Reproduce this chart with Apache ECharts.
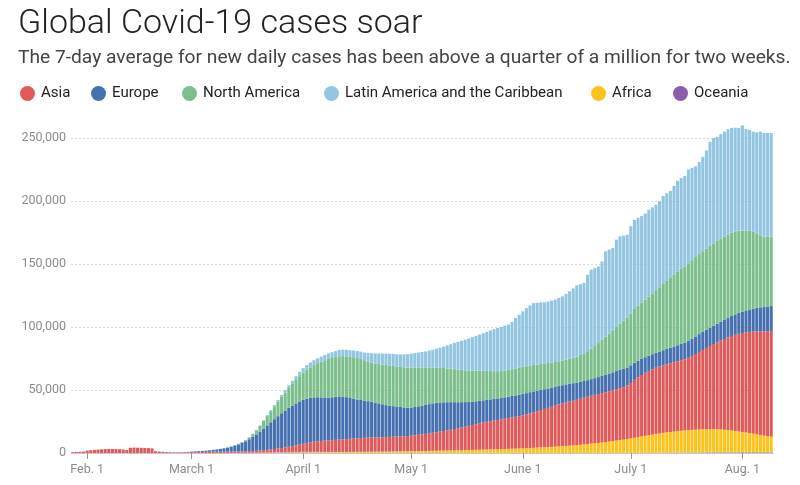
<!DOCTYPE html>
<html>
<head>
<meta charset="utf-8">
<script src="https://cdn.jsdelivr.net/npm/echarts@6/dist/echarts.min.js"></script>
<style>
html,body{margin:0;padding:0;background:#fff;}
#chart{width:800px;height:485px;}
</style>
</head>
<body>
<div id="chart"></div>
<script>
// 7-day average of new daily cases, in thousands, one value per day from Jan. 28 to Aug. 9, 2020
const startDate = '2020-01-28';

const oceania = [
  0,0,0,0,
  0,0,0,0,0,0,0,0,0,0,0,0,0,0,0,0,0,0,0,0,0,0,0,0,0,0,0,0,0,
  0,0,0,0,0,0,0,0,0,0,0.01,0.02,0.02,0.03,0.04,0.05,0.07,0.09,0.12,0.15,0.19,0.23,0.27,0.3,0.34,0.37,0.4,0.42,0.43,0.42,0.4,
  0.38,0.35,0.32,0.29,0.26,0.22,0.19,0.16,0.13,0.11,0.09,0.08,0.07,0.06,0.05,0.04,0.04,0.03,0.03,0.03,0.03,0.02,0.02,0.02,0.02,0.02,0.02,0.02,0.02,0.02,
  0.02,0.02,0.02,0.02,0.02,0.02,0.02,0.02,0.02,0.02,0.02,0.02,0.02,0.02,0.02,0.02,0.02,0.02,0.02,0.02,0.02,0.02,0.02,0.02,0.02,0.02,0.02,0.02,0.02,0.02,0.02,
  0.02,0.02,0.02,0.02,0.02,0.02,0.02,0.02,0.02,0.02,0.02,0.02,0.02,0.02,0.02,0.02,0.02,0.02,0.02,0.02,0.03,0.03,0.03,0.04,0.04,0.04,0.05,0.05,0.06,0.06,
  0.08,0.09,0.1,0.11,0.12,0.13,0.14,0.15,0.16,0.17,0.18,0.2,0.22,0.24,0.26,0.28,0.3,0.32,0.34,0.36,0.38,0.4,0.42,0.44,0.46,0.47,0.48,0.49,0.5,0.5,0.5,
  0.51,0.52,0.52,0.53,0.53,0.52,0.51,0.5,0.5
];

const africa = [
  0,0,0,0,
  0,0,0,0,0,0,0,0,0,0,0,0,0,0,0,0,0,0,0,0,0,0,0,0,0,0,0,0,0,
  0,0,0,0,0,0.01,0.01,0.01,0.01,0.02,0.02,0.03,0.03,0.04,0.05,0.06,0.08,0.1,0.12,0.14,0.16,0.19,0.22,0.25,0.28,0.31,0.34,0.37,0.4,0.43,0.46,
  0.49,0.52,0.55,0.58,0.6,0.62,0.64,0.66,0.68,0.7,0.72,0.74,0.76,0.78,0.8,0.83,0.86,0.89,0.92,0.95,0.98,1.02,1.06,1.1,1.14,1.18,1.22,1.27,1.32,1.37,
  1.42,1.47,1.52,1.57,1.62,1.68,1.74,1.8,1.86,1.92,1.98,2.04,2.1,2.16,2.22,2.28,2.35,2.42,2.5,2.58,2.66,2.74,2.82,2.9,3.0,3.1,3.2,3.3,3.4,3.5,3.6,
  3.7,3.8,3.95,4.1,4.25,4.4,4.55,4.7,4.85,5.0,5.2,5.4,5.6,5.8,6.0,6.2,6.5,6.8,7.1,7.4,7.7,8.0,8.3,8.6,9.0,9.4,9.8,10.2,10.6,11.0,
  11.5,12.0,12.5,13.0,13.5,14.0,14.5,15.0,15.4,15.8,16.2,16.5,16.8,17.1,17.4,17.6,17.8,18.0,18.2,18.3,18.4,18.5,18.5,18.5,18.4,18.2,18.0,17.7,17.4,17.0,16.6,
  16.2,15.8,15.3,14.8,14.3,13.8,13.3,12.9,12.5
];

const asia = [
  0.7,0.8,0.9,1.1,
  1.9,2.2,2.5,2.7,2.9,3.1,3.2,3.2,3.1,3.0,2.8,2.4,4.1,4.3,4.2,4.1,4.0,3.9,3.7,1.4,1.1,0.9,0.7,0.6,0.5,0.5,0.5,0.5,0.6,
  0.7,0.75,0.8,0.85,0.9,0.95,1.0,1.0,1.0,1.0,1.0,1.0,1.05,1.1,1.15,1.2,1.3,1.4,1.5,1.7,1.9,2.1,2.3,2.6,2.9,3.3,3.7,4.2,4.7,5.2,5.8,
  6.4,7.0,7.5,8.0,8.4,8.7,9.0,9.2,9.4,9.6,9.8,10.0,10.2,10.4,10.6,10.8,11.0,11.1,11.2,11.2,11.3,11.3,11.4,11.5,11.6,11.7,11.8,11.9,12.0,12.1,
  12.3,12.6,12.9,13.2,13.5,13.9,14.3,14.7,15.1,15.5,15.9,16.4,16.9,17.4,18.0,18.6,19.2,19.8,20.4,21.0,21.5,22.0,22.4,22.8,23.2,23.6,24.0,24.4,24.8,25.2,25.6,
  26.2,26.8,27.5,28.2,29.0,29.7,30.4,31.1,31.8,32.5,33.2,33.9,34.5,35.0,35.5,36.0,36.5,37.0,37.5,38.0,38.4,38.8,39.2,39.6,40.0,40.4,40.8,41.2,41.6,42.5,
  44.0,46.0,47.5,48.8,50.0,51.0,51.8,52.5,53.0,53.5,54.0,54.5,55.0,55.5,56.0,56.5,57.5,58.7,60.0,61.5,63.0,64.5,66.0,67.5,69.0,70.5,72.0,73.5,75.0,76.3,77.5,
  78.5,79.5,80.3,81.0,81.7,82.3,82.8,83.3,83.8
];

const europe = [
  0,0,0,0,
  0,0,0,0,0,0,0,0,0,0,0,0,0,0,0,0,0,0,0,0,0.02,0.04,0.06,0.08,0.1,0.13,0.17,0.22,0.28,
  0.4,0.5,0.65,0.8,1.0,1.2,1.5,1.8,2.2,2.7,3.3,4.0,4.8,5.7,6.8,8.0,9.5,11.2,13.0,15.0,17.2,19.4,21.6,23.7,25.7,27.6,29.3,30.8,32.1,33.3,34.3,
  35.0,35.3,35.4,35.3,35.0,34.6,34.2,34.0,34.0,34.2,34.3,34.0,33.3,32.4,31.6,30.8,30.2,29.6,29.0,28.4,27.7,27.0,26.2,25.4,24.8,24.3,23.8,23.3,22.8,22.4,
  22.3,22.4,22.6,22.8,23.0,23.2,23.3,23.3,23.1,22.8,22.4,21.9,21.3,20.7,20.1,19.5,19.0,18.5,18.1,17.8,17.6,17.4,17.3,17.2,17.1,17.0,17.0,17.0,17.0,17.0,17.0,
  17.0,16.9,16.8,16.6,16.3,16.0,15.7,15.4,15.1,14.9,14.7,14.5,14.3,14.1,13.9,13.7,13.5,13.3,13.2,13.2,13.3,13.4,13.6,13.8,14.0,14.2,14.4,14.5,14.5,14.3,
  14.0,13.6,13.2,12.8,12.4,12.1,12.0,12.0,12.0,12.1,12.2,12.3,12.5,12.7,12.9,13.1,13.4,13.7,14.0,14.2,14.3,14.4,14.5,14.6,14.7,14.9,15.1,15.4,15.8,16.2,16.6,
  17.0,17.4,17.8,18.2,18.6,19.0,19.3,19.6,19.8
];

const northAmerica = [
  0,0,0,0,
  0,0,0,0,0,0,0,0,0,0,0,0,0,0,0,0,0,0,0,0,0,0,0,0,0,0,0,0,0,
  0,0.01,0.01,0.02,0.03,0.04,0.05,0.07,0.09,0.12,0.16,0.22,0.3,0.42,0.6,0.9,1.4,2.2,3.3,4.6,6.0,7.4,8.8,10.2,11.6,13.0,14.4,15.8,17.2,18.6,20.0,
  21.4,22.8,24.2,25.6,27.0,28.4,29.6,30.6,31.2,31.5,31.8,32.1,32.4,32.7,33.0,33.0,32.6,32.0,31.6,31.3,31.1,31.2,31.5,31.8,31.9,31.9,31.8,31.8,31.9,32.0,
  31.8,31.4,30.9,30.3,29.7,29.1,28.5,28.0,27.6,27.2,26.8,26.5,26.2,25.9,25.6,25.3,25.0,24.7,24.4,24.0,23.5,23.0,22.5,22.0,21.6,21.3,21.2,21.2,21.3,21.4,21.5,
  21.5,21.3,21.1,20.9,20.7,20.6,20.4,20.2,20.0,19.8,19.7,19.6,19.7,19.9,20.2,20.6,21.2,22.0,23.0,24.2,25.5,27.0,28.6,30.2,31.8,33.4,35.0,36.6,38.2,39.8,
  41.2,42.6,43.8,44.8,45.8,46.9,48.2,49.6,51.0,52.5,54.0,55.4,56.8,58.2,59.5,60.6,61.6,62.4,63.0,63.6,64.1,64.6,65.0,65.4,65.7,66.0,66.2,66.3,66.2,65.8,65.2,
  64.2,63.4,62.4,61.0,59.2,57.2,55.8,55.2,55.0
];

const latinAmerica = [
  0,0,0,0,
  0,0,0,0,0,0,0,0,0,0,0,0,0,0,0,0,0,0,0,0,0,0,0,0,0,0,0,0,0,
  0,0,0,0,0,0.01,0.01,0.02,0.02,0.03,0.04,0.05,0.07,0.09,0.12,0.16,0.21,0.28,0.36,0.46,0.58,0.72,0.88,1.05,1.25,1.5,1.8,2.1,2.5,3.0,3.5,
  3.7,3.8,3.9,3.9,3.9,4.0,4.2,4.4,4.6,4.8,5.0,5.1,5.2,5.2,5.3,5.4,5.7,6.1,6.6,7.2,7.9,8.4,8.8,9.1,9.3,9.5,9.7,9.9,10.2,10.5,
  11.0,11.4,11.8,12.3,12.8,13.4,14.1,14.9,15.9,17.0,18.2,19.5,20.8,22.0,23.2,24.3,25.4,26.5,27.6,28.6,29.8,31.0,32.2,33.3,34.3,35.0,35.6,36.0,37.5,40.0,42.0,
  44.0,46.2,47.8,49.2,49.0,48.8,48.5,48.8,49.2,49.5,50.2,50.9,52.2,53.5,55.0,56.5,56.2,55.9,60.7,62.7,61.8,60.8,62.3,67.8,66.5,65.3,69.3,69.5,67.5,65.6,
  69.2,70.7,69.6,68.5,68.2,68.9,68.3,67.7,68.4,69.9,69.5,69.1,70.7,72.3,72.1,71.9,74.4,73.2,72.0,73.0,74.8,77.6,82.6,83.6,82.7,83.0,83.2,83.6,83.1,82.4,81.6,
  83.6,80.4,80.0,79.5,80.2,82.2,82.3,82.5,82.4
];

const seriesNames = ['Oceania', 'Africa', 'Asia', 'Europe', 'North America', 'Latin America and the Caribbean'];
const seriesData = [oceania, africa, asia, europe, northAmerica, latinAmerica];
const seriesColors = ['#8a5ea8', '#fbc31d', '#df5a5b', '#4671b0', '#7cbf8c', '#93c5e1'];

// legend order as shown
const legendNames = ['Asia', 'Europe', 'North America', 'Latin America and the Caribbean', 'Africa', 'Oceania'];
const legendLeft = [20, 91, 182, 324, 591, 673];

const yTicks = [0, 50, 100, 150, 200, 250]; // thousands
const monthTickLabels = {'02': 'Feb. 1', '03': 'March 1', '04': 'April 1', '05': 'May 1', '06': 'June 1', '07': 'July 1', '08': 'Aug. 1'};

// build category dates
const categories = [];
{
  const d0 = new Date(startDate + 'T00:00:00Z');
  for (let i = 0; i < asia.length; i++) {
    const d = new Date(d0.getTime() + i * 86400000);
    categories.push(d.toISOString().slice(0, 10));
  }
}
const isMonthStart = (v) => v.slice(8) === '01' && monthTickLabels[v.slice(5, 7)] !== undefined;

const FONT = 'Roboto, "Noto Sans", sans-serif';
const chart = echarts.init(document.getElementById('chart'), null, {renderer: 'canvas'});

const option = {
  animation: false,
  backgroundColor: '#fff',
  textStyle: {fontFamily: FONT},
  title: [
    {text: 'Global Covid-19 cases soar', left: 18, top: 7, padding: 0,
     textStyle: {fontFamily: FONT, fontSize: 34, fontWeight: 300, color: '#222'}},
    {text: 'The 7-day average for new daily cases has been above a quarter of a million for two weeks.', left: 18, top: 49, padding: 0,
     textStyle: {fontFamily: FONT, fontSize: 19.2, fontWeight: 'normal', color: '#444'}}
  ],
  legend: legendNames.map((n, i) => ({
    data: [n], left: legendLeft[i], top: 86, padding: 0, icon: 'circle', itemWidth: 15, itemHeight: 15,
    itemGap: 0, selectedMode: false,
    textStyle: {fontFamily: FONT, fontSize: 15, color: '#222', padding: [0, 0, 0, 1]}
  })),
  grid: {left: 71, right: 27, top: 138, bottom: 32, containLabel: false},
  xAxis: {
    type: 'category',
    data: categories,
    boundaryGap: true,
    axisLine: {show: true, lineStyle: {color: '#c8c8c8', width: 1}},
    axisTick: {show: true, alignWithLabel: true, length: 6, interval: (i, v) => isMonthStart(v),
               lineStyle: {color: '#999'}},
    axisLabel: {interval: (i, v) => isMonthStart(v), formatter: (v) => monthTickLabels[v.slice(5, 7)],
                color: '#8c8c8c', fontSize: 12.5, margin: 10, fontFamily: FONT},
    splitLine: {show: false}
  },
  yAxis: {
    type: 'value',
    min: yTicks[0], max: yTicks[yTicks.length - 1], interval: yTicks[1] - yTicks[0],
    axisLine: {show: false}, axisTick: {show: false},
    axisLabel: {color: '#8c8c8c', fontSize: 12.5, margin: 5, fontFamily: FONT,
                formatter: (v) => (v * 1000).toLocaleString('en-US')},
    splitLine: {show: true, lineStyle: {color: '#d9d9d9', type: [2, 2], width: 1}}
  },
  series: seriesNames.map((n, i) => ({
    name: n, type: 'bar', stack: 'total', data: seriesData[i],
    barCategoryGap: '14%', clip: false,
    itemStyle: {color: seriesColors[i]},
    emphasis: {disabled: true}
  }))
};
chart.setOption(option);
</script>
</body>
</html>
